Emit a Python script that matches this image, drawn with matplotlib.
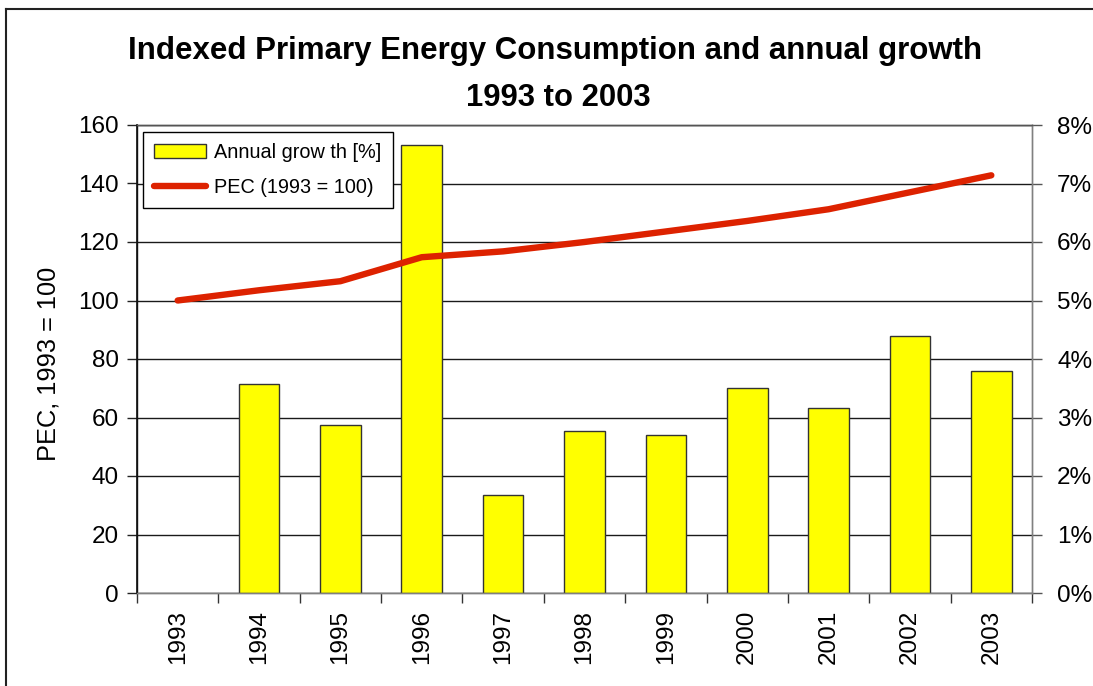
import numpy as np
import matplotlib
matplotlib.use("Agg")
import matplotlib.pyplot as plt
from matplotlib.ticker import FuncFormatter, FixedLocator
from matplotlib.lines import Line2D

plt.rcParams['font.family'] = ['Liberation Sans', 'DejaVu Sans']

years = ['1993', '1994', '1995', '1996', '1997', '1998', '1999', '2000', '2001', '2002', '2003']
growth_pct = [np.nan, 3.57, 2.87, 7.66, 1.675, 2.77, 2.70, 3.50, 3.16, 4.40, 3.80]
pec_index = [100, 103.5, 106.6, 114.8, 116.8, 120.0, 123.6, 127.2, 131.2, 137.0, 142.8]

title_line1 = 'Indexed Primary Energy Consumption and annual growth'
title_line2 = '1993 to 2003'
growth_label = 'Annual grow th [%]'
pec_label = 'PEC (1993 = 100)'
ylabel_left = 'PEC, 1993 = 100'

W, H = 1093, 686
fig = plt.figure(figsize=(W / 100, H / 100), dpi=100)
left, right, top, bottom = 137, 1032, 125, 593
ax = fig.add_axes([left / W, 1 - bottom / H, (right - left) / W, (bottom - top) / H])
ax2 = ax.twinx()

x = np.arange(len(years))

# Bars (percent scale) on primary axes
bars = ax.bar(x, growth_pct, width=0.5, color='#FFFF00', edgecolor='#333333',
              linewidth=1.0, zorder=3, label=growth_label)
ax.set_ylim(0, 8)
ax.set_xlim(-0.5, len(years) - 0.5)
ax.yaxis.set_major_locator(FixedLocator(np.arange(0, 9, 1)))
ax.yaxis.set_major_formatter(FuncFormatter(lambda v, p: f'{v:.0f}%'))
ax.yaxis.tick_right()
ax.grid(axis='y', color='#1a1a1a', linewidth=1.0, zorder=0)
ax.set_axisbelow(True)

# Line (PEC scale) on twin axes, ticks on the left
line, = ax2.plot(x, pec_index, color='#DD2200', linewidth=4.6,
                 solid_capstyle='round', solid_joinstyle='round', zorder=5, label=pec_label)
ax2.set_ylim(0, 160)
ax2.yaxis.set_major_locator(FixedLocator(np.arange(0, 161, 20)))
ax2.yaxis.tick_left()
ax2.yaxis.set_label_position('left')
ax2.set_ylabel(ylabel_left, fontsize=18.3)
ax2.yaxis.set_label_coords(-0.086, 0.49)

# x ticks: labels at centers, tick marks at boundaries
ax.set_xticks(x)
ax.set_xticklabels(years, rotation=90, fontsize=17.5)
ax.tick_params(axis='x', which='major', length=0, pad=12)
ax.set_xticks(np.arange(-0.5, len(years)), minor=True)
ax.tick_params(axis='x', which='minor', length=7, width=1, color='#333333', direction='out')

ax.tick_params(axis='y', which='major', labelsize=17.5, length=7, width=1,
               color='#555555', direction='out', pad=11)
ax2.tick_params(axis='y', which='major', labelsize=17.5, length=7, width=1,
                color='#222222', direction='out', pad=6)

for a in (ax, ax2):
    a.spines['left'].set_color('#111111')
    a.spines['right'].set_color('#808080')
    a.spines['top'].set_color('#555555')
    a.spines['bottom'].set_color('#808080')
    for s in a.spines.values():
        s.set_linewidth(1.0)
ax2.spines['left'].set_linewidth(1.2)

leg = ax2.legend([bars, line], [growth_label, pec_label], loc='upper left',
                 bbox_to_anchor=(142.7 / W, 1 - 131.7 / H), bbox_transform=fig.transFigure,
                 borderaxespad=0, fancybox=False, edgecolor='#000000', framealpha=1,
                 fontsize=14.3, handlelength=2.6, handletextpad=0.4,
                 borderpad=0.58, labelspacing=0.78)
leg.get_frame().set_linewidth(1.0)

fig.text(0.508, 1 - 59 / H, title_line1, ha='center', va='baseline',
         fontsize=22.5, fontweight='bold')
fig.text(0.511, 1 - 106 / H, title_line2, ha='center', va='baseline',
         fontsize=22.3, fontweight='bold')

# outer border (left and top visible in reference)
fig.add_artist(Line2D([6 / W, 6 / W], [0, 1 - 9 / H], transform=fig.transFigure,
                      color='#222222', linewidth=1.5))
fig.add_artist(Line2D([6 / W, 1], [1 - 9 / H, 1 - 9 / H], transform=fig.transFigure,
                      color='#222222', linewidth=1.5))

fig.savefig('out.png', dpi=100)
